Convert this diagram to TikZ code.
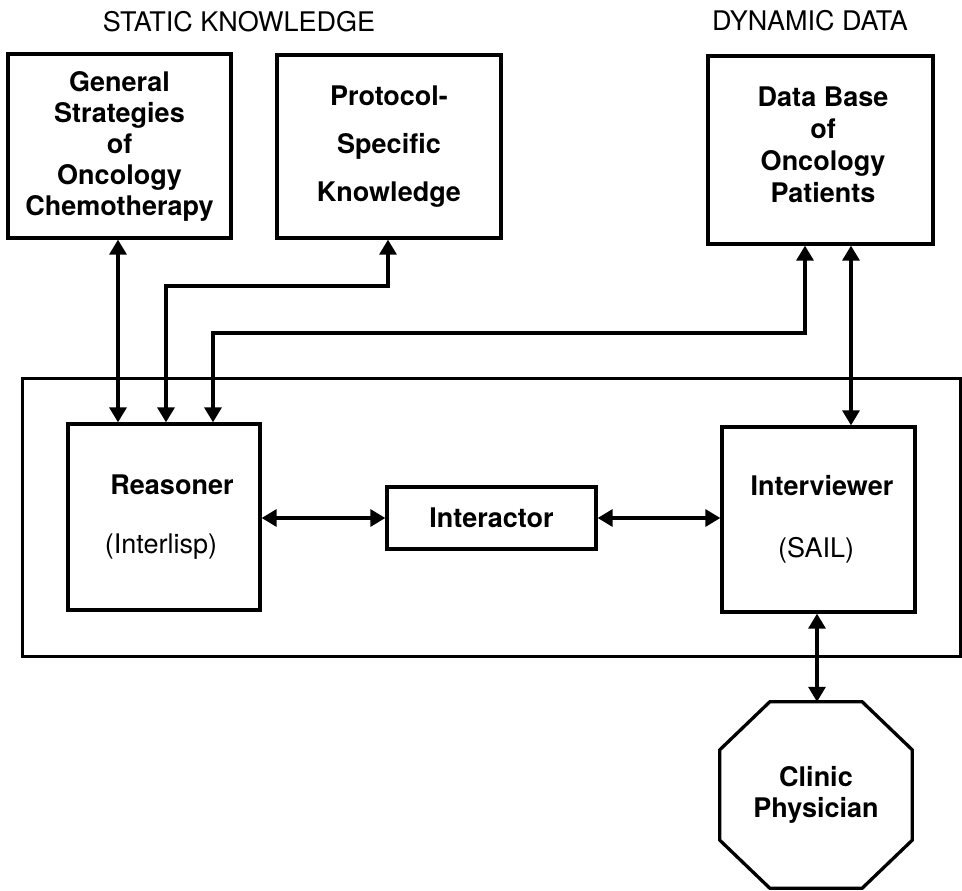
\documentclass[tikz,border=0pt]{standalone}
\usepackage{fontspec}
\setmainfont{TeX Gyre Heros}
\usetikzlibrary{arrows.meta}
\tikzset{
  box/.style={draw, line width=3.3pt, inner sep=0pt},
  conn/.style={line width=3.2pt, {Triangle[length=15pt,width=17pt]}-{Triangle[length=15pt,width=17pt]}},
  bt/.style={font=\fontsize{27}{31}\selectfont\bfseries, align=center, inner sep=0pt},
  rt/.style={font=\fontsize{27}{31}\selectfont, inner sep=0pt},
}
\begin{document}
\begin{tikzpicture}[x=1pt,y=-1pt]
\useasboundingbox (0,0) rectangle (962,891);
% titles
\node[rt] (t1) at (239,22) {STATIC KNOWLEDGE};
\node[rt] (t2) at (810,21) {DYNAMIC DATA};
% top boxes
\node[box, minimum width=223pt, minimum height=184pt, bt] (A) at (119.5,146)
  {General\\Strategies\\of\\Oncology\\Chemotherapy};
\node[box, minimum width=224pt, minimum height=183pt, bt, font=\fontsize{27}{48}\selectfont\bfseries] (B) at (389,146.5)
  {Protocol-\\Specific\\Knowledge};
\node[box, minimum width=225pt, minimum height=188pt] (C) at (820.5,150) {};
\node[bt, font=\fontsize{27}{32}\selectfont\bfseries] (Ct) at (823,145) {Data Base\\of\\Oncology\\Patients};
% container
\node[box, line width=3pt, minimum width=938pt, minimum height=278pt] (O) at (491,517) {};
% inner boxes
\node[box, minimum width=192pt, minimum height=186pt] (R) at (164,517) {};
\node[bt] (Rt1) at (172,485) {Reasoner};
\node[rt] (Rt2) at (161,547) {(Interlisp)};
\node[box, minimum width=209pt, minimum height=62pt, bt] (I) at (491.5,518) {Interactor};
\node[box, minimum width=193pt, minimum height=185pt] (V) at (818.5,519.5) {};
\node[bt] (Vt1) at (822,486) {Interviewer};
\node[rt] (Vt2) at (816,550) {(SAIL)};
% octagon
\node[minimum width=192pt, minimum height=186pt, inner sep=0pt, bt] (P) at (816,795) {Clinic\\Physician};
\draw[line width=3.3pt, line join=miter]
  ([xshift=50pt]P.north west) -- ([xshift=-50pt]P.north east)
  -- ([yshift=-48pt]P.north east) -- ([yshift=48pt]P.south east)
  -- ([xshift=-50pt]P.south east) -- ([xshift=50pt]P.south west)
  -- ([yshift=48pt]P.south west) -- ([yshift=-48pt]P.north west) -- cycle;
% routing coordinates
\coordinate (a1) at (118,0);
\coordinate (k1) at (388,286);
\coordinate (k2) at (166,286);
\coordinate (d1) at (805,333);
\coordinate (d2) at (213,333);
\coordinate (v1) at (851,0);
\coordinate (p1) at (817,0);
% connectors
\draw[conn] (A.south -| a1) -- (R.north -| a1);
\draw[conn] (B.south -| k1) -- (k1) -- (k2) -- (R.north -| k2);
\draw[conn] (C.south -| d1) -- (d1) -- (d2) -- (R.north -| d2);
\draw[conn] (C.south -| v1) -- (V.north -| v1);
\draw[conn] (R.east |- I.west) -- (I.west);
\draw[conn] (I.east) -- (V.west |- I.east);
\draw[conn] (V.south -| p1) -- (P.north -| p1);
\end{tikzpicture}
\end{document}
